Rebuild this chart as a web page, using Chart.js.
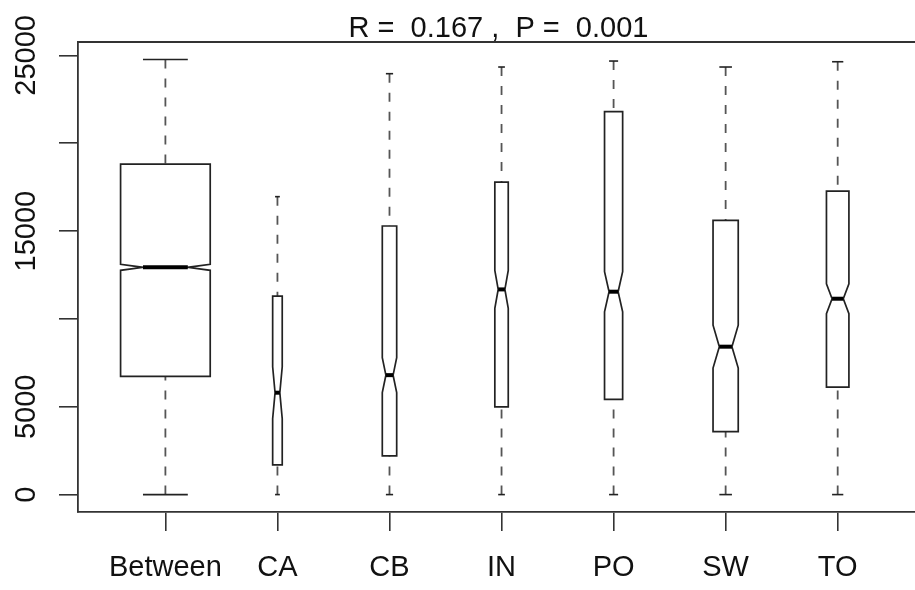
<!DOCTYPE html>
<html lang="en">
<head>
  <meta charset="UTF-8" />
  <title>ANOSIM - dissimilarity ranks</title>
  <script src="https://cdn.jsdelivr.net/npm/chart.js"></script>
  <style>
    body { margin: 0; background: #fff; }
    #wrap { width: 915px; height: 590px; }
  </style>
</head>
<body>
  <div id="wrap"><canvas id="box" width="915" height="590"></canvas></div>

  <script>
    // values
    const groups = ["Between", "CA", "CB", "IN", "PO", "SW", "TO"];
    const whiskLow = [0, 0, 0, 0, 0, 0, 0];
    const q1 = [6730, 1690, 2200, 4990, 5420, 3590, 6120];
    const median = [12935, 5800, 6800, 11680, 11550, 8420, 11150];
    const q3 = [18810, 11300, 15290, 17790, 21800, 15610, 17280];
    const whiskHigh = [24770, 16960, 23960, 24340, 24680, 24340, 24640];
    const notchHalf = [170, 1480, 1000, 1080, 1140, 1220, 850];
    const groupN = [5000, 57, 129, 112, 204, 395, 314];
    const yTicks = [0, 5000, 10000, 15000, 20000, 25000];
    const yTickLabels = ["0", "5000", "", "15000", "", "25000"];
    const title = "R =  0.167 ,  P =  0.001";

    const FONT = "'Liberation Sans', Arial, sans-serif";
    const INK = "#222";

    function line(ctx, x1, y1, x2, y2) {
      ctx.beginPath();
      ctx.moveTo(x1, y1);
      ctx.lineTo(x2, y2);
      ctx.stroke();
    }

    // notched boxes, drawn like R's bxp()
    const boxPlugin = {
      id: "notchedBoxes",
      afterDatasetsDraw(chart) {
        const { ctx, chartArea: a, scales: { x, y } } = chart;
        const unit = x.getPixelForValue(1) - x.getPixelForValue(0);
        const maxN = Math.max(...groupN);
        ctx.save();

        groups.forEach((g, i) => {
          const cx = x.getPixelForValue(i + 1);
          const hw = 0.4 * Math.sqrt(groupN[i] / maxN) * unit;
          const yLo = y.getPixelForValue(whiskLow[i]);
          const yQ1 = y.getPixelForValue(q1[i]);
          const yMed = y.getPixelForValue(median[i]);
          const yQ3 = y.getPixelForValue(q3[i]);
          const yHi = y.getPixelForValue(whiskHigh[i]);
          const yNLo = y.getPixelForValue(median[i] - notchHalf[i]);
          const yNHi = y.getPixelForValue(median[i] + notchHalf[i]);

          // whiskers
          ctx.strokeStyle = "#555";
          ctx.lineWidth = 1.8;
          ctx.setLineDash([9, 10]);
          line(ctx, cx, yLo, cx, yQ1);
          line(ctx, cx, yHi, cx, yQ3);
          ctx.setLineDash([]);

          // staples
          ctx.strokeStyle = INK;
          ctx.lineWidth = 1.6;
          line(ctx, cx - hw / 2, yLo, cx + hw / 2, yLo);
          line(ctx, cx - hw / 2, yHi, cx + hw / 2, yHi);

          // box with notch
          ctx.beginPath();
          ctx.moveTo(cx - hw, yQ1);
          ctx.lineTo(cx - hw, yNLo);
          ctx.lineTo(cx - hw / 2, yMed);
          ctx.lineTo(cx - hw, yNHi);
          ctx.lineTo(cx - hw, yQ3);
          ctx.lineTo(cx + hw, yQ3);
          ctx.lineTo(cx + hw, yNHi);
          ctx.lineTo(cx + hw / 2, yMed);
          ctx.lineTo(cx + hw, yNLo);
          ctx.lineTo(cx + hw, yQ1);
          ctx.closePath();
          ctx.fillStyle = "#fff";
          ctx.fill();
          ctx.lineWidth = 1.7;
          ctx.stroke();

          // median
          ctx.lineWidth = 4;
          ctx.strokeStyle = "#000";
          line(ctx, cx - hw / 2, yMed, cx + hw / 2, yMed);
        });

        // top of the frame (right side falls off the canvas)
        ctx.strokeStyle = "#333";
        ctx.lineWidth = 1.8;
        line(ctx, a.left, a.top, a.right, a.top);

        // y labels, parallel to the axis
        ctx.fillStyle = "#111";
        ctx.font = "29px " + FONT;
        ctx.textAlign = "center";
        ctx.textBaseline = "alphabetic";
        yTicks.forEach((v, i) => {
          if (!yTickLabels[i]) return;
          ctx.save();
          ctx.translate(34.5, y.getPixelForValue(v));
          ctx.rotate(-Math.PI / 2);
          ctx.fillText(yTickLabels[i], 0, 0);
          ctx.restore();
        });

        // title over the plot region
        ctx.fillText(title, (a.left + a.right) / 2 + 2, 37);
        ctx.restore();
      }
    };

    const axisGrid = { drawOnChartArea: false, drawTicks: true, tickLength: 19, color: "#333", lineWidth: 1.6 };
    const axisBorder = { display: true, color: "#333", width: 1.8 };

    new Chart(document.getElementById("box"), {
      type: "scatter",
      data: {
        datasets: [{
          data: groups.map((g, i) => ({ x: i + 1, y: median[i] })),
          pointRadius: 0
        }]
      },
      options: {
        responsive: false,
        animation: false,
        events: [],
        layout: { padding: { top: 42, right: 0, left: 0, bottom: 0 } },
        plugins: { legend: { display: false }, tooltip: { enabled: false } },
        scales: {
          x: {
            type: "linear",
            min: 0.22,
            max: 7.69,
            afterBuildTicks: s => { s.ticks = groups.map((g, i) => ({ value: i + 1 })); },
            afterFit: s => { s.height = 78; },
            grid: axisGrid,
            border: axisBorder,
            ticks: {
              font: { family: FONT, size: 29 },
              color: "#111",
              padding: 20,
              maxRotation: 0,
              autoSkip: false,
              callback: v => groups[v - 1]
            }
          },
          y: {
            type: "linear",
            min: -991,
            max: 25764,
            afterBuildTicks: s => { s.ticks = yTicks.map(v => ({ value: v })); },
            afterFit: s => { s.width = 78; },
            grid: axisGrid,
            border: axisBorder,
            ticks: { display: false }
          }
        }
      },
      plugins: [boxPlugin]
    });
  </script>
</body>
</html>
